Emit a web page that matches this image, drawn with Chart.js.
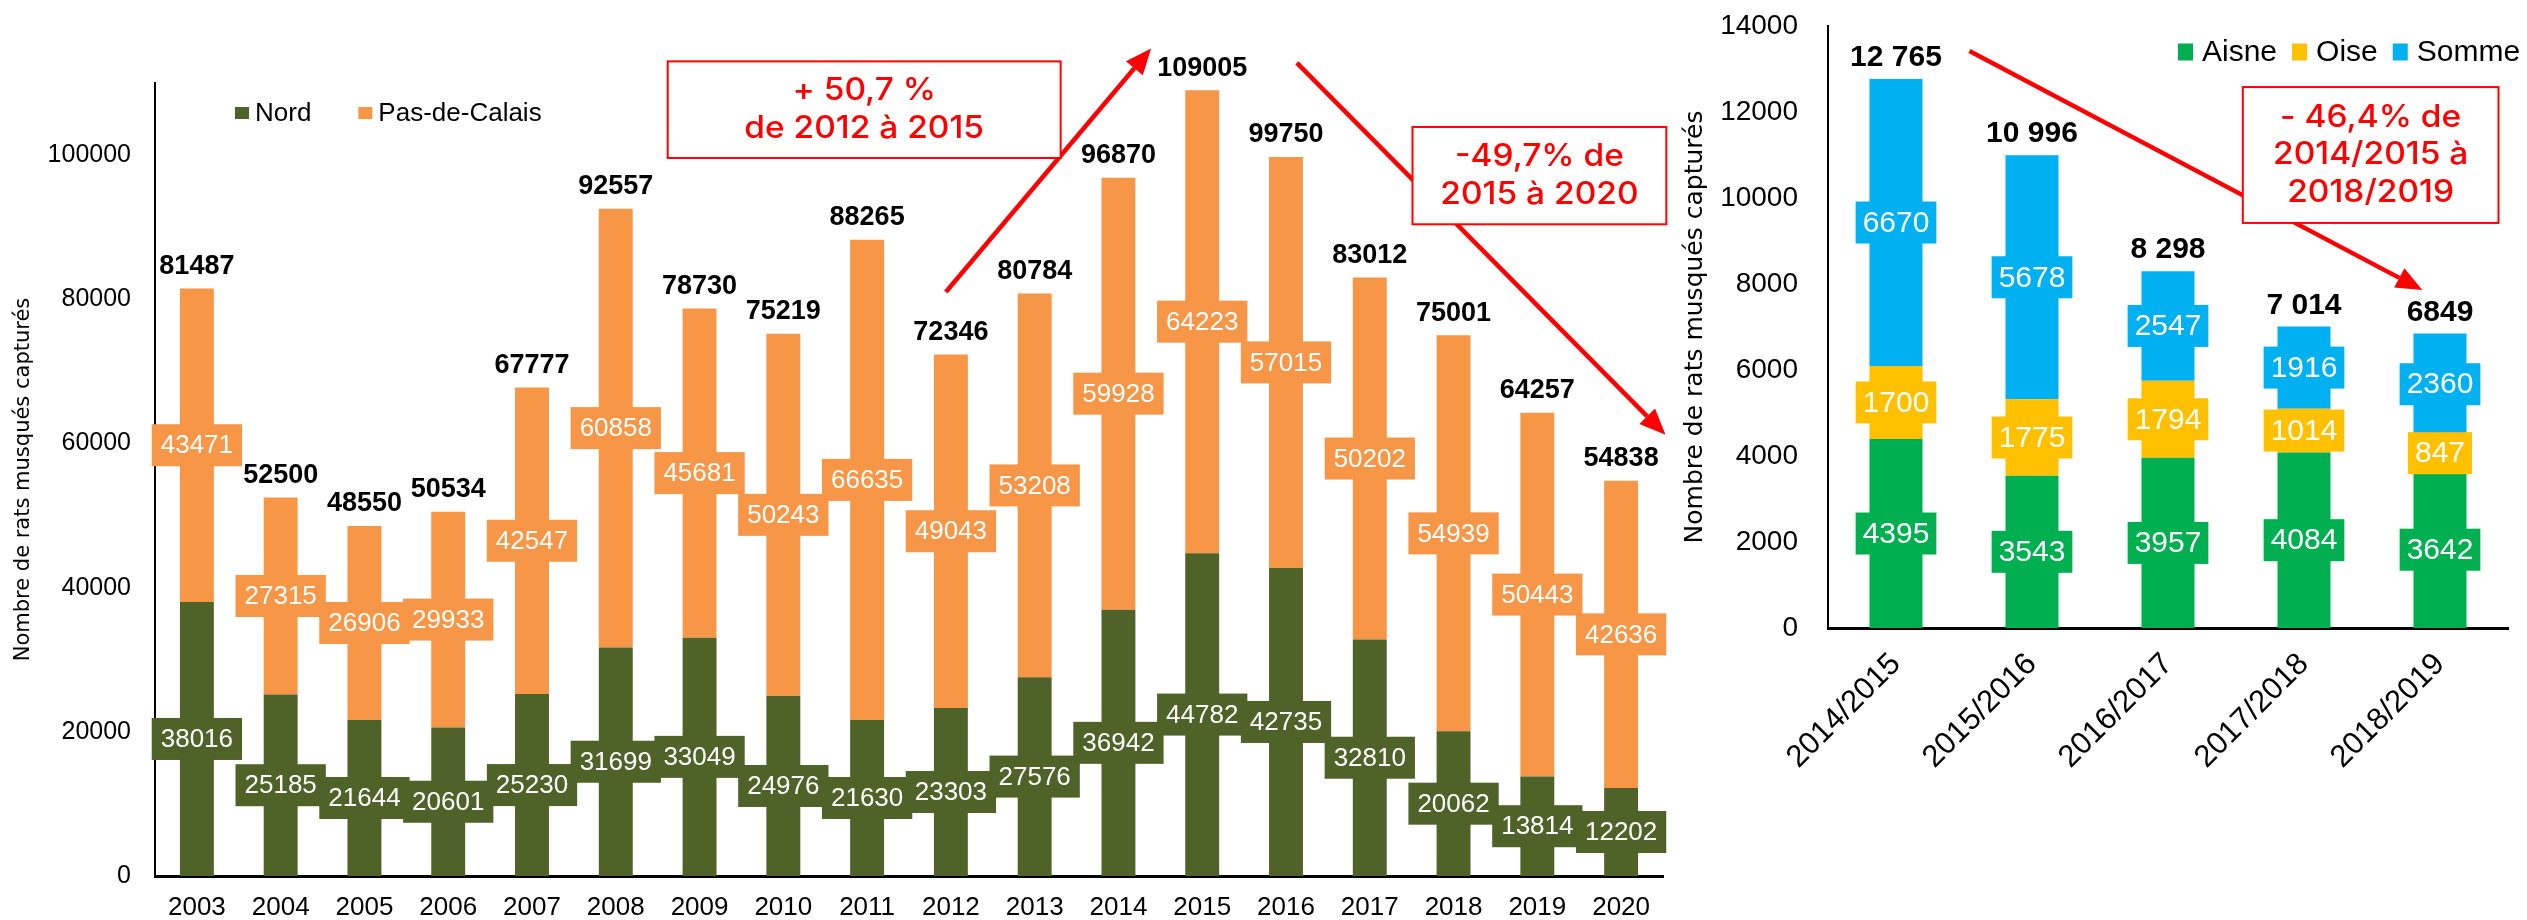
<!DOCTYPE html>
<html>
<head>
<meta charset="utf-8">
<script src="https://cdn.jsdelivr.net/npm/chart.js@4.4.1/dist/chart.umd.min.js"></script>
<style>
  html, body { margin: 0; padding: 0; background: #fff; }
  body { width: 2527px; height: 920px; position: relative; overflow: hidden; }
  #boiteNord { position: absolute; left: 0; top: 0; }
  #boitePicardie { position: absolute; left: 1670px; top: 0; }
</style>
</head>
<body>
<div id="boiteNord"><canvas id="graphNord" width="1690" height="920"></canvas></div>
<div id="boitePicardie"><canvas id="graphPicardie" width="857" height="920"></canvas></div>

<script>
// ---------- DONNÉES : NORD / PAS-DE-CALAIS ----------
const annees = ["2003", "2004", "2005", "2006", "2007", "2008", "2009", "2010", "2011",
                "2012", "2013", "2014", "2015", "2016", "2017", "2018", "2019", "2020"];
const nord = [38016, 25185, 21644, 20601, 25230, 31699, 33049, 24976, 21630,
              23303, 27576, 36942, 44782, 42735, 32810, 20062, 13814, 12202];
const pasDeCalais = [43471, 27315, 26906, 29933, 42547, 60858, 45681, 50243, 66635,
                     49043, 53208, 59928, 64223, 57015, 50202, 54939, 50443, 42636];
const totauxNord = ["81487", "52500", "48550", "50534", "67777", "92557", "78730", "75219", "88265",
                    "72346", "80784", "96870", "109005", "99750", "83012", "75001", "64257", "54838"];
const graduationsNord = [0, 20000, 40000, 60000, 80000, 100000];

// ---------- DONNÉES : PICARDIE ----------
const saisons = ["2014/2015", "2015/2016", "2016/2017", "2017/2018", "2018/2019"];
const aisne = [4395, 3543, 3957, 4084, 3642];
const oise = [1700, 1775, 1794, 1014, 847];
const somme = [6670, 5678, 2547, 1916, 2360];
const totauxPicardie = ["12 765", "10 996", "8 298", "7 014", "6849"];
const graduationsPicardie = [0, 2000, 4000, 6000, 8000, 10000, 12000, 14000];

// ---------- ANNOTATIONS (en coordonnées du graphique : [catégorie, valeur]) ----------
const flechesNord = [
  { de: [8.94, 81000], a: [11.39, 114800] },
  { de: [13.13, 112800], a: [17.53, 61200] }
];
const encadresNord = [
  { coin1: [5.62, 113000], coin2: [10.31, 99600], lignes: ["+ 50,7 %", "de 2012 à 2015"] },
  { coin1: [14.51, 103900], coin2: [17.54, 90400], lignes: ["-49,7% de", "2015 à 2020"] }
];
const flechesPicardie = [
  { de: [0.54, 13420], a: [3.87, 7860] }
];
const encadresPicardie = [
  { coin1: [2.55, 12580], coin2: [4.43, 9420], lignes: ["- 46,4% de", "2014/2015 à", "2018/2019"] }
];

const ROUGE = "#FF0000";
const POLICE = '"Liberation Sans", Arial, sans-serif';
const TITRE_AXE = "Nombre de rats musqués capturés";

Chart.defaults.font.family = POLICE;
Chart.defaults.color = "#000";

// ---------- DESSIN D'UNE FLÈCHE ----------
function dessinerFleche(ctx, x1, y1, x2, y2) {
  const ang = Math.atan2(y2 - y1, x2 - x1);
  const L = 26, W = 11;
  const xb = x2 - L * Math.cos(ang), yb = y2 - L * Math.sin(ang);
  ctx.strokeStyle = ROUGE;
  ctx.fillStyle = ROUGE;
  ctx.lineWidth = 4.5;
  ctx.beginPath();
  ctx.moveTo(x1, y1);
  ctx.lineTo(xb, yb);
  ctx.stroke();
  ctx.beginPath();
  ctx.moveTo(x2, y2);
  ctx.lineTo(xb + W * Math.sin(ang), yb - W * Math.cos(ang));
  ctx.lineTo(xb - W * Math.sin(ang), yb + W * Math.cos(ang));
  ctx.closePath();
  ctx.fill();
}

// ---------- PLUGIN : étiquettes, légende, annotations ----------
function creerHabillage(cfg) {
  return {
    id: "habillage",
    afterDatasetsDraw(chart) {
      const ctx = chart.ctx;
      ctx.save();
      ctx.textAlign = "center";
      ctx.textBaseline = "middle";

      // étiquettes dans les segments
      chart.data.datasets.forEach((ds, i) => {
        const meta = chart.getDatasetMeta(i);
        meta.data.forEach((barre, j) => {
          const texte = String(ds.data[j]);
          const yc = (barre.y + barre.base) / 2;
          ctx.font = cfg.policeEtiquette;
          const larg = ctx.measureText(texte).width + 2 * cfg.margeEtiquette;
          ctx.fillStyle = ds.backgroundColor;
          ctx.fillRect(barre.x - larg / 2, yc - cfg.hauteurEtiquette / 2, larg, cfg.hauteurEtiquette);
          ctx.fillStyle = "#fff";
          ctx.fillText(texte, barre.x, yc + 1);
        });
      });

      // totaux au-dessus des barres
      const dernier = chart.getDatasetMeta(chart.data.datasets.length - 1);
      ctx.font = cfg.policeTotal;
      ctx.fillStyle = "#000";
      dernier.data.forEach((barre, j) => {
        ctx.fillText(cfg.totaux[j], barre.x, barre.y - cfg.ecartTotal);
      });
      ctx.restore();
    },
    afterDraw(chart) {
      const ctx = chart.ctx;
      const sx = chart.scales.x, sy = chart.scales.y;
      const px = c => [sx.getPixelForValue(c[0]), sy.getPixelForValue(c[1])];
      ctx.save();

      // légende
      const lg = cfg.legende;
      let x = chart.chartArea.left + lg.dx;
      const yc = chart.chartArea.top + lg.dy;
      ctx.font = lg.police;
      ctx.textAlign = "left";
      ctx.textBaseline = "middle";
      chart.data.datasets.forEach(ds => {
        ctx.fillStyle = ds.backgroundColor;
        ctx.fillRect(x, yc - lg.carre[1] / 2, lg.carre[0], lg.carre[1]);
        x += lg.carre[0] + lg.ecart;
        ctx.fillStyle = "#000";
        ctx.fillText(ds.label, x, yc + 1);
        x += ctx.measureText(ds.label).width + lg.pas;
      });

      // flèches
      cfg.fleches.forEach(f => {
        const [x1, y1] = px(f.de);
        const [x2, y2] = px(f.a);
        dessinerFleche(ctx, x1, y1, x2, y2);
      });

      // encadrés
      cfg.encadres.forEach(e => {
        const [xa, ya] = px(e.coin1);
        const [xb, yb] = px(e.coin2);
        ctx.fillStyle = "#fff";
        ctx.fillRect(xa, ya, xb - xa, yb - ya);
        ctx.strokeStyle = ROUGE;
        ctx.lineWidth = 2;
        ctx.strokeRect(xa, ya, xb - xa, yb - ya);
        ctx.fillStyle = ROUGE;
        ctx.font = '500 31px Inter, "Liberation Sans", sans-serif';
        ctx.textAlign = "center";
        ctx.textBaseline = "middle";
        const cx = (xa + xb) / 2, cy = (ya + yb) / 2;
        const n = e.lignes.length;
        e.lignes.forEach((ligne, k) => {
          ctx.save();
          ctx.translate(cx, cy + (k - (n - 1) / 2) * 37.5);
          ctx.scale(1.08, 1);
          ctx.fillText(ligne, 0, 0);
          ctx.restore();
        });
      });
      ctx.restore();
    }
  };
}

// ---------- GRAPHIQUE NORD / PAS-DE-CALAIS ----------
const graphNord = new Chart(document.getElementById("graphNord"), {
  type: "bar",
  data: {
    labels: annees,
    datasets: [
      { label: "Nord", data: nord, backgroundColor: "#4F6228", barPercentage: 0.405, categoryPercentage: 1 },
      { label: "Pas-de-Calais", data: pasDeCalais, backgroundColor: "#F79646", barPercentage: 0.405, categoryPercentage: 1 }
    ]
  },
  options: {
    responsive: false,
    animation: false,
    devicePixelRatio: 1,
    layout: { padding: { top: 83, right: 27, bottom: 0, left: 0 } },
    plugins: { legend: { display: false }, tooltip: { enabled: false } },
    scales: {
      x: {
        stacked: true,
        grid: { display: false, drawTicks: false },
        border: { display: true, color: "#000", width: 3 },
        ticks: { font: { size: 26 }, color: "#000", padding: 16, maxRotation: 0 },
        afterFit(s) { s.height = 44; }
      },
      y: {
        stacked: true,
        min: 0,
        max: 110000,
        // l'écart étiquette / axe passe par tickLength pour ne pas gonfler la marge haute
        grid: { display: false, drawTicks: true, tickLength: 22 },
        border: { display: true, color: "#000", width: 2 },
        ticks: { font: { size: 25 }, color: "#000", padding: 2, callback: v => String(v) },
        afterBuildTicks(s) { s.ticks = graduationsNord.map(v => ({ value: v })); },
        title: {
          display: true,
          text: TITRE_AXE,
          color: "#000",
          font: { family: '"DejaVu Sans", sans-serif', size: 21 },
          padding: { top: 11, bottom: 0 }
        },
        afterFit(s) { s.width = 155; }
      }
    }
  },
  plugins: [creerHabillage({
    totaux: totauxNord,
    policeEtiquette: "26px " + POLICE,
    margeEtiquette: 9,
    hauteurEtiquette: 42,
    policeTotal: "bold 27px " + POLICE,
    ecartTotal: 22,
    legende: { dx: 80, dy: 30, carre: [14, 12], ecart: 6, pas: 47, police: "26px " + POLICE },
    fleches: flechesNord,
    encadres: encadresNord
  })]
});

// ---------- GRAPHIQUE PICARDIE ----------
const graphPicardie = new Chart(document.getElementById("graphPicardie"), {
  type: "bar",
  data: {
    labels: saisons,
    datasets: [
      { label: "Aisne", data: aisne, backgroundColor: "#00B050", barPercentage: 0.39, categoryPercentage: 1 },
      { label: "Oise", data: oise, backgroundColor: "#FFC000", barPercentage: 0.39, categoryPercentage: 1 },
      { label: "Somme", data: somme, backgroundColor: "#00B0F0", barPercentage: 0.39, categoryPercentage: 1 }
    ]
  },
  options: {
    responsive: false,
    animation: false,
    devicePixelRatio: 1,
    layout: { padding: { top: 26, right: 19, bottom: 0, left: 0 } },
    plugins: { legend: { display: false }, tooltip: { enabled: false } },
    scales: {
      x: {
        stacked: true,
        grid: { display: false, drawTicks: false },
        border: { display: true, color: "#000", width: 3 },
        ticks: { font: { size: 31 }, color: "#000", padding: 18, minRotation: 45, maxRotation: 45 },
        afterFit(s) { s.height = 292; }
      },
      y: {
        stacked: true,
        min: 0,
        max: 14000,
        grid: { display: false, drawTicks: true, tickLength: 28 },
        border: { display: true, color: "#000", width: 2 },
        ticks: { font: { size: 28 }, color: "#000", padding: 2, callback: v => String(v) },
        afterBuildTicks(s) { s.ticks = graduationsPicardie.map(v => ({ value: v })); },
        title: {
          display: true,
          text: TITRE_AXE,
          color: "#000",
          font: { family: '"DejaVu Sans", sans-serif', size: 25 },
          padding: { top: 10, bottom: 0 }
        },
        afterFit(s) { s.width = 158; }
      }
    }
  },
  plugins: [creerHabillage({
    totaux: totauxPicardie,
    policeEtiquette: "30px " + POLICE,
    margeEtiquette: 7,
    hauteurEtiquette: 42,
    policeTotal: "bold 30px " + POLICE,
    ecartTotal: 21,
    legende: { dx: 350, dy: 26, carre: [15, 17], ecart: 9, pas: 15, police: "30px " + POLICE },
    fleches: flechesPicardie,
    encadres: encadresPicardie
  })]
});
</script>
</body>
</html>
